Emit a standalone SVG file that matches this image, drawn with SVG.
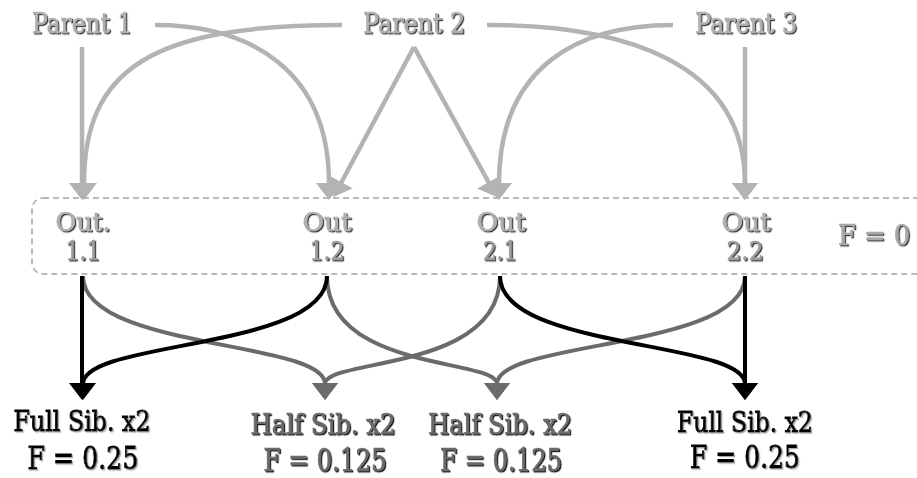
<svg xmlns="http://www.w3.org/2000/svg" width="917" height="478" viewBox="0 0 917 478">
<defs>
<style>
text{font-family:"DejaVu Serif","Liberation Serif",serif;text-anchor:middle;stroke-width:0.7}
.lt{fill:#b0b0b0;stroke:#b0b0b0;filter:url(#shd)}
.lt2{fill:#9c9c9c;stroke:#9c9c9c;filter:url(#shd)}
.dk{fill:#6b6b6b;stroke:#6b6b6b;filter:url(#shd2)}
.bk{fill:#000;stroke:#000;stroke-width:0.9;filter:url(#shl)}
.top{fill:none;stroke:#b3b3b3;stroke-width:4.5}
.g{fill:none;stroke:#6b6b6b;stroke-width:4}
.b{fill:none;stroke:#000;stroke-width:4}
</style>
<filter id="shd" x="-10%" y="-20%" width="120%" height="150%"><feDropShadow dx="1.2" dy="1.2" stdDeviation="0.3" flood-color="#333"/></filter>
<filter id="shd2" x="-10%" y="-20%" width="120%" height="150%"><feDropShadow dx="1.2" dy="1.2" stdDeviation="0.3" flood-color="#111"/></filter>
<filter id="shl" x="-10%" y="-20%" width="120%" height="150%"><feDropShadow dx="1.2" dy="1.2" stdDeviation="0.3" flood-color="#aaa"/></filter>
<marker id="aL" markerUnits="userSpaceOnUse" markerWidth="18" markerHeight="26" refX="1" refY="13" orient="auto"><path d="M0,0 L17,13 L0,26 z" fill="#b3b3b3"/></marker>
<marker id="aG" markerUnits="userSpaceOnUse" markerWidth="18" markerHeight="26" refX="1" refY="13" orient="auto"><path d="M0,0 L17,13 L0,26 z" fill="#6b6b6b"/></marker>
<marker id="aB" markerUnits="userSpaceOnUse" markerWidth="18" markerHeight="26" refX="1" refY="13" orient="auto"><path d="M0,0 L17,13 L0,26 z" fill="#000"/></marker>
</defs>
<rect width="917" height="478" fill="#fff"/>
<g id="offspring-group">
<rect x="32" y="198" width="900" height="76" rx="11" fill="none" stroke="#b8b8b8" stroke-width="2" stroke-dasharray="6,4"/>
<text class="lt" x="874" y="245" font-size="28" textLength="72" lengthAdjust="spacingAndGlyphs" style="fill:#a8a8a8;stroke:#a8a8a8">F = 0</text>
</g>
<g id="connectors">
<path class="top" d="M82,47 V184" marker-end="url(#aL)"/>
<path class="top" d="M745,47 V184" marker-end="url(#aL)"/>
<path class="top" d="M155,25 C250,25 329,70 329,184" marker-end="url(#aL)"/>
<path class="top" d="M342,25 C150,25 84,70 84,184" marker-end="url(#aL)"/>
<path class="top" d="M487,25 C620,25 745,60 745,184" marker-end="url(#aL)"/>
<path class="top" d="M673,25 C580,25 499,65 499,184" marker-end="url(#aL)"/>
<path class="top" d="M414,47 L341,183" marker-end="url(#aL)"/>
<path class="top" d="M414,47 L489,183" marker-end="url(#aL)"/>
<path class="g" d="M83,276 C83,350 325,340 325,384" marker-end="url(#aG)"/>
<path class="g" d="M327,276 C327,372 497,358 497,384" marker-end="url(#aG)"/>
<path class="g" d="M500,276 C500,372 325,358 325,384" marker-end="url(#aG)"/>
<path class="g" d="M745,276 C745,350 497,340 497,384" marker-end="url(#aG)"/>
<path class="b" d="M82,276 V384" marker-end="url(#aB)"/>
<path class="b" d="M327,276 C327,350 83,340 83,384" marker-end="url(#aB)"/>
<path class="b" d="M500,276 C500,350 745,340 745,384" marker-end="url(#aB)"/>
<path class="b" d="M745,276 V384" marker-end="url(#aB)"/>
</g>
<g id="parent1"><text class="lt" x="82" y="33" font-size="27" textLength="100" lengthAdjust="spacingAndGlyphs">Parent 1</text></g>
<g id="parent2"><text class="lt" x="414" y="33" font-size="27" textLength="102" lengthAdjust="spacingAndGlyphs">Parent 2</text></g>
<g id="parent3"><text class="lt" x="746" y="33" font-size="27" textLength="102" lengthAdjust="spacingAndGlyphs">Parent 3</text></g>
<g id="out11"><text class="lt" x="83" y="231" font-size="26" textLength="55" lengthAdjust="spacingAndGlyphs">Out.</text><text class="lt2" x="83" y="260" font-size="26" textLength="35" lengthAdjust="spacingAndGlyphs">1.1</text></g>
<g id="out12"><text class="lt" x="327" y="231" font-size="26" textLength="49" lengthAdjust="spacingAndGlyphs">Out</text><text class="lt2" x="327" y="260" font-size="26" textLength="35" lengthAdjust="spacingAndGlyphs">1.2</text></g>
<g id="out21"><text class="lt" x="501" y="231" font-size="26" textLength="49" lengthAdjust="spacingAndGlyphs">Out</text><text class="lt2" x="500" y="260" font-size="26" textLength="34" lengthAdjust="spacingAndGlyphs">2.1</text></g>
<g id="out22"><text class="lt" x="746" y="231" font-size="26" textLength="49" lengthAdjust="spacingAndGlyphs">Out</text><text class="lt2" x="745" y="260" font-size="26" textLength="37" lengthAdjust="spacingAndGlyphs">2.2</text></g>
<g id="fullsib1"><text class="bk" x="82" y="431" font-size="27" textLength="137" lengthAdjust="spacingAndGlyphs">Full Sib. x2</text><text class="bk" x="83" y="469" font-size="31" textLength="111" lengthAdjust="spacingAndGlyphs">F = 0.25</text></g>
<g id="halfsib1"><text class="dk" x="323" y="434" font-size="27" textLength="145" lengthAdjust="spacingAndGlyphs">Half Sib. x2</text><text class="dk" x="325" y="471" font-size="31" textLength="123" lengthAdjust="spacingAndGlyphs">F = 0.125</text></g>
<g id="halfsib2"><text class="dk" x="500" y="434" font-size="27" textLength="144" lengthAdjust="spacingAndGlyphs">Half Sib. x2</text><text class="dk" x="501" y="471" font-size="31" textLength="122" lengthAdjust="spacingAndGlyphs">F = 0.125</text></g>
<g id="fullsib2"><text class="bk" x="745" y="432" font-size="27" textLength="136" lengthAdjust="spacingAndGlyphs">Full Sib. x2</text><text class="bk" x="745" y="468" font-size="31" textLength="110" lengthAdjust="spacingAndGlyphs">F = 0.25</text></g>
</svg>
